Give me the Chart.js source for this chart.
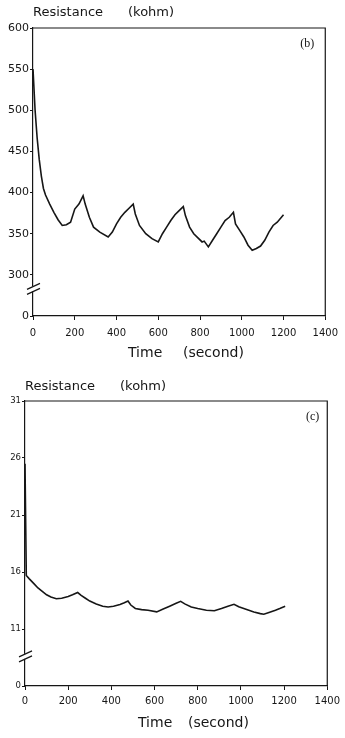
<!DOCTYPE html>
<html><head><meta charset="utf-8">
<script src="https://cdn.jsdelivr.net/npm/chart.js@4.4.0/dist/chart.umd.min.js"></script>
<style>
html,body{margin:0;padding:0;background:#fff;}
#w{position:relative;width:345px;height:738px;overflow:hidden;}
canvas{position:absolute;left:0;}
</style></head><body>
<div id="w">
<canvas id="cb" width="345" height="365" style="top:0"></canvas>
<canvas id="cc" width="345" height="373" style="top:365px"></canvas>
</div>
<script>
// ---- data (b) ----
const timeB = [0,10,20,30,40,50,60,80,100,120,140,160,180,200,220,240,250,270,290,320,360,380,400,420,440,460,480,490,510,540,570,600,620,640,660,680,700,720,730,750,770,790,810,820,840,860,880,900,920,940,960,970,990,1010,1030,1050,1070,1090,1110,1130,1150,1170,1200];
const resB  = [550,500,466,440,420,405,397,386,376,367,360,361,364,380,386,396,386,370,358,352,346,352,362,370,376,381,386,374,360,350,344,340,350,358,366,373,378,383,372,358,350,345,340,341,334,342,350,358,366,370,376,362,354,346,336,330,332,335,342,352,360,364,373];
// ---- data (c) ----
const timeC = [0,6,20,40,60,80,100,120,145,170,200,220,244,260,280,300,330,360,385,410,440,460,477,490,511,540,570,610,640,670,700,721,740,770,800,840,877,910,940,968,990,1020,1060,1090,1106,1130,1160,1180,1205];
const resC  = [25.5,15.7,15.4,15.0,14.6,14.3,14.0,13.8,13.65,13.7,13.85,14.0,14.2,13.95,13.7,13.45,13.2,13.0,12.93,13.0,13.15,13.3,13.45,13.1,12.8,12.7,12.65,12.5,12.75,13.0,13.25,13.43,13.2,12.93,12.8,12.65,12.6,12.8,13.0,13.17,12.95,12.75,12.5,12.35,12.3,12.45,12.65,12.8,13.0];
// ---- ticks ----
const xTickValues = [0,200,400,600,800,1000,1200,1400];
const xTickLabels = ['0','200','400','600','800','1000','1200','1400'];
const yTickValuesB = [250,300,350,400,450,500,550,600];
const yTickLabelsB = ['0','300','350','400','450','500','550','600'];
const yTickValuesC = [6,11,16,21,26,31];
const yTickLabelsC = ['0','11','16','21','26','31'];

const INK = '#161616';

const deco = {
  id: 'deco',
  afterDraw(chart, args, o) {
    const {ctx, chartArea: a, scales} = chart;
    ctx.save();
    ctx.strokeStyle = INK; ctx.lineWidth = 1.2;
    ctx.beginPath();
    ctx.moveTo(a.left, a.top); ctx.lineTo(a.right, a.top); ctx.lineTo(a.right, a.bottom);
    ctx.stroke();
    // axis break
    const yb = scales.y.getPixelForValue(o.breakValue);
    ctx.fillStyle = '#fff';
    ctx.fillRect(a.left - 2, yb - 2.5, 4, 5);
    ctx.beginPath();
    ctx.moveTo(a.left - 6, yb + 0.5); ctx.lineTo(a.left + 7, yb - 5.5);
    ctx.moveTo(a.left - 6, yb + 5.5); ctx.lineTo(a.left + 7, yb - 0.5);
    ctx.stroke();
    // texts
    ctx.fillStyle = INK; ctx.textBaseline = 'middle'; ctx.textAlign = 'left';
    ctx.font = '13px "DejaVu Sans"';
    ctx.fillText(o.yName, a.left, a.top - o.yGap);
    ctx.fillText(o.yUnit, a.left + 95, a.top - o.yGap);
    ctx.font = '14px "DejaVu Sans"';
    ctx.fillText(o.xName, a.left + o.xNameOff, a.bottom + 37);
    ctx.fillText(o.xUnit, a.left + o.xUnitOff, a.bottom + 37);
    ctx.font = '12px "Liberation Serif"';
    ctx.textAlign = 'right';
    ctx.fillText(o.panel, a.right - o.panelOff, a.top + 16);
    ctx.restore();
  }
};

function makeChart(id, times, vals, yVals, yLabels, yMin, yMax, yW, xH, padR, padT, yFont, xPad, decoOpts) {
  const pts = times.map((t, i) => ({x: t, y: vals[i]}));
  return new Chart(document.getElementById(id), {
    type: 'line',
    data: { datasets: [{ data: pts, borderColor: INK, borderWidth: 1.6, pointRadius: 0, tension: 0, fill: false }] },
    options: {
      responsive: false, animation: false, devicePixelRatio: 1,
      layout: { padding: { top: padT, right: padR, left: 0, bottom: 0 } },
      plugins: { legend: { display: false }, tooltip: { enabled: false }, deco: decoOpts },
      scales: {
        x: {
          type: 'linear', min: 0, max: 1400,
          afterBuildTicks: s => { s.ticks = xTickValues.map(v => ({value: v})); },
          afterFit: s => { s.height = xH; },
          ticks: { callback: (v) => xTickLabels[xTickValues.indexOf(v)], color: INK, font: { family: 'DejaVu Sans', size: 10 }, padding: xPad, maxRotation: 0, autoSkip: false },
          grid: { drawOnChartArea: false, tickLength: 4, color: INK, tickWidth: 1 },
          border: { color: INK, width: 1.2 }
        },
        y: {
          type: 'linear', min: yMin, max: yMax,
          afterBuildTicks: s => { s.ticks = yVals.map(v => ({value: v})); },
          afterFit: s => { s.width = yW; },
          ticks: { callback: (v) => yLabels[yVals.indexOf(v)], color: INK, font: { family: 'DejaVu Sans', size: yFont }, padding: 1, autoSkip: false },
          grid: { drawOnChartArea: false, tickLength: 3, color: INK, tickWidth: 1 },
          border: { color: INK, width: 1.2 }
        }
      }
    },
    plugins: [deco]
  });
}

makeChart('cb', timeB, resB, yTickValuesB, yTickLabelsB, 250, 600, 33, 49, 12, 28, 11, 7,
  { breakValue: 283, yName: 'Resistance', yUnit: '(kohm)', yGap: 15, xName: 'Time', xUnit: '(second)', xNameOff: 95, xUnitOff: 150, panel: '(b)', panelOff: 11 });
makeChart('cc', timeC, resC, yTickValuesC, yTickLabelsC, 6, 31, 25, 52, 14, 36, 8.5, 5,
  { breakValue: 8.6, yName: 'Resistance', yUnit: '(kohm)', yGap: 14, xName: 'Time', xUnit: '(second)', xNameOff: 113, xUnitOff: 163, panel: '(c)', panelOff: 8 });
</script>
</body></html>
